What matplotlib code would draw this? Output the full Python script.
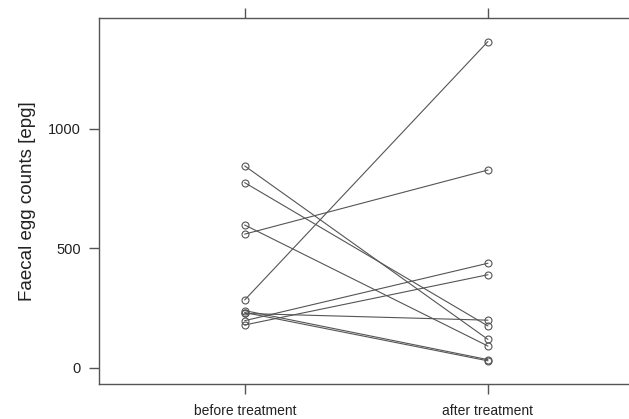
import matplotlib
matplotlib.use("Agg")
import matplotlib.pyplot as plt

groups = ["before treatment", "after treatment"]
before = [845, 775, 598, 560, 285, 240, 232, 228, 198, 180]
after = [120, 176, 92, 828, 1365, 35, 30, 200, 438, 390]
yticks = [0, 500, 1000]

plt.rcParams['font.family'] = ['Liberation Sans', 'DejaVu Sans']

fig = plt.figure(figsize=(6.29, 4.19), dpi=100)
ax = fig.add_axes([99/629, (419-384)/419, 534.6/629, 366/419])

x = [1, 2]
for b, a in zip(before, after):
    ax.plot(x, [b, a], color='#555555', linewidth=0.8, marker='o',
            markersize=5, markerfacecolor='none', markeredgecolor='#555555',
            markeredgewidth=0.8)

ax.set_xlim(0.4, 2.6)
ax.set_ylim(-67, 1464)
ax.set_xticks(x)
ax.set_xticklabels(groups)
ax.set_yticks(yticks)
ax.set_ylabel("Faecal egg counts [epg]", fontsize=13.5, color='#222222', labelpad=9)

for s in ax.spines.values():
    s.set_color('#555555')
    s.set_linewidth(1.0)

ax.tick_params(axis='x', direction='out', length=7, width=1, color='#555555',
               labelsize=10, labelcolor='#222222', pad=7.5, top=True)
ax.tick_params(axis='y', direction='out', length=7, width=1, color='#555555',
               labelsize=10.5, labelcolor='#222222', pad=6)

fig.savefig("out.png", dpi=100)
